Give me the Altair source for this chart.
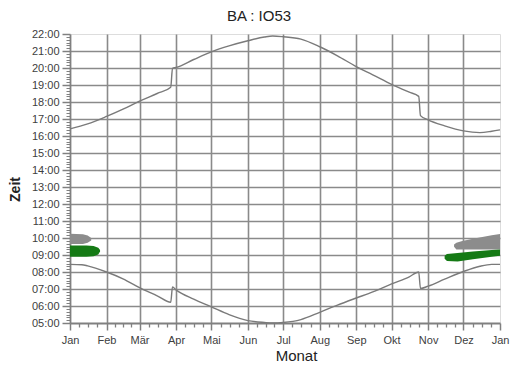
import altair as alt
import pandas as pd

# ---- axis categories ----
month_days = [0, 31, 59, 90, 120, 151, 181, 212, 243, 273, 304, 334, 365]
month_labels = ["Jan", "Feb", "Mär", "Apr", "Mai", "Jun", "Jul", "Aug", "Sep", "Okt", "Nov", "Dez", "Jan"]
hour_ticks = list(range(5, 23))

# ---- sunset (upper curve), day of year -> hour ----
sunset_day = [0, 15, 31, 45, 59, 74, 85.5, 87, 90, 105, 120, 135, 151, 165, 172, 181, 196, 212,
              227, 243, 257, 273, 288, 296, 297.5, 304, 318, 334, 348, 358, 365]
sunset_time = [16.42, 16.71, 17.15, 17.58, 18.05, 18.5, 18.87, 19.98, 20.03, 20.5, 20.95, 21.3,
               21.6, 21.82, 21.88, 21.84, 21.7, 21.25, 20.72, 20.08, 19.6, 19.03, 18.58, 18.33,
               17.2, 16.95, 16.6, 16.3, 16.2, 16.28, 16.36]

# ---- sunrise (lower curve) ----
sunrise_day = [0, 10, 15, 31, 45, 59, 74, 85.5, 87, 90, 105, 120, 135, 151, 165, 172, 181, 196,
               212, 227, 243, 257, 273, 288, 296, 297.5, 304, 318, 334, 348, 358, 365]
sunrise_time = [8.45, 8.43, 8.36, 8.0, 7.6, 7.08, 6.6, 6.22, 7.12, 6.95, 6.4, 5.95, 5.49, 5.14,
                5.03, 5.0, 5.03, 5.2, 5.63, 6.05, 6.47, 6.83, 7.3, 7.72, 8.0, 7.03, 7.17, 7.58,
                8.03, 8.34, 8.45, 8.45]

# ---- observation bands (gray / green blobs) ----
gray_l_day = [0, 11, 15, 18]
gray_l_lo = [9.65, 9.65, 9.72, 9.86]
gray_l_hi = [10.25, 10.22, 10.14, 10.0]

green_l_day = [0, 14, 20, 24, 25.5]
green_l_lo = [8.9, 8.9, 8.93, 9.03, 9.2]
green_l_hi = [9.56, 9.56, 9.53, 9.43, 9.3]

gray_r_day = [326, 328, 333, 342, 358, 365]
gray_r_lo = [9.48, 9.33, 9.33, 9.33, 9.33, 9.32]
gray_r_hi = [9.62, 9.72, 9.82, 9.95, 10.16, 10.24]

green_r_day = [318, 320, 329, 342, 358, 365]
green_r_lo = [8.78, 8.64, 8.62, 8.75, 8.9, 8.95]
green_r_hi = [8.95, 9.06, 9.12, 9.2, 9.29, 9.32]

FONT = "Liberation Sans"

sunset_df = pd.DataFrame({"day": sunset_day, "h": sunset_time})
sunrise_df = pd.DataFrame({"day": sunrise_day, "h": sunrise_time})

bands = pd.concat([
    pd.DataFrame({"seg": "gl", "grp": "grau", "day": gray_l_day, "lo": gray_l_lo, "hi": gray_l_hi}),
    pd.DataFrame({"seg": "nl", "grp": "grün", "day": green_l_day, "lo": green_l_lo, "hi": green_l_hi}),
    pd.DataFrame({"seg": "gr", "grp": "grau", "day": gray_r_day, "lo": gray_r_lo, "hi": gray_r_hi}),
    pd.DataFrame({"seg": "nr", "grp": "grün", "day": green_r_day, "lo": green_r_lo, "hi": green_r_hi}),
])

# tick positions
minor_days = []
for a, b in zip(month_days[:-1], month_days[1:]):
    for k in (1, 2, 3):
        minor_days.append(a + (b - a) * k / 4)
minor_hours = [h + k / 6 for h in hour_ticks[:-1] for k in range(1, 6)]

xscale = alt.Scale(domain=[0, 365], nice=False, zero=False)
yscale = alt.Scale(domain=[5, 22], nice=False, zero=False)

GRID = "#8a8a8a"
AX = "#808080"
LINE = "#7a7a7a"

label_expr = "[" + ",".join("'%s'" % m for m in month_labels) + "][indexof([" + \
    ",".join(str(d) for d in month_days) + "], datum.value)]"

# layer 1: bands + grid axes
band_layer = alt.Chart(bands).mark_area(opacity=1).encode(
    x=alt.X("day:Q", scale=xscale,
            axis=alt.Axis(orient="bottom", values=month_days[1:-1], grid=True, gridColor=GRID,
                          gridWidth=1.6, ticks=False, labels=False, domain=False, title=None)),
    y=alt.Y("lo:Q", scale=yscale,
            axis=alt.Axis(orient="left", values=hour_ticks[1:-1], grid=True, gridColor=GRID,
                          gridWidth=1.6, ticks=False, labels=False, domain=False, title=None)),
    y2="hi:Q",
    color=alt.Color("grp:N", scale=alt.Scale(domain=["grau", "grün"], range=["#8c8c8c", "#157a15"]),
                    legend=None),
    detail="seg:N",
)

# layer 2: sunset line + labelled axes
sunset_layer = alt.Chart(sunset_df).mark_line(color=LINE, strokeWidth=1.4, interpolate="monotone").encode(
    x=alt.X("day:Q", scale=xscale,
            axis=alt.Axis(orient="bottom", values=month_days, labelExpr=label_expr, grid=False,
                          tickSize=7, tickColor=AX, tickWidth=1.5, domainColor=AX, domainWidth=1.8,
                          labelFont=FONT, labelFontSize=11, labelColor="#404040", labelPadding=4,
                          labelFlush=False,
                          title="Monat", titleFont=FONT, titleFontSize=15, titleFontWeight="normal",
                          titleColor="#222", titlePadding=3, titleX=226)),
    y=alt.Y("h:Q", scale=yscale,
            axis=alt.Axis(orient="left", values=hour_ticks,
                          labelExpr="(datum.value < 10 ? '0' : '') + datum.value + ':00'",
                          grid=False, tickSize=8, tickColor=AX, tickWidth=1.5, domainColor=AX,
                          domainWidth=1.8, labelFont=FONT, labelFontSize=11, labelColor="#404040",
                          labelPadding=3, labelFlush=False,
                          title="Zeit", titleFont=FONT, titleFontSize=14, titleFontWeight="bold",
                          titleColor="#222", titleX=-55, titleY=155, titleBaseline="middle")),
)

# layer 3: sunrise line + minor ticks
sunrise_layer = alt.Chart(sunrise_df).mark_line(color=LINE, strokeWidth=1.4, interpolate="monotone").encode(
    x=alt.X("day:Q", scale=xscale,
            axis=alt.Axis(orient="bottom", values=minor_days, grid=False, labels=False, domain=False,
                          tickSize=4, tickColor=AX, tickWidth=1.3, title=None)),
    y=alt.Y("h:Q", scale=yscale,
            axis=alt.Axis(orient="left", values=minor_hours, grid=False, labels=False, domain=False,
                          tickSize=4, tickColor=AX, tickWidth=1.0, title=None)),
)

chart = alt.layer(band_layer, sunset_layer, sunrise_layer).resolve_axis(
    x="independent", y="independent"
).properties(
    width=430,
    height=289,
    autosize=alt.AutoSizeParams(type="none"),
    padding={"left": 62, "top": 26, "right": 10, "bottom": 40},
    title=alt.TitleParams("BA : IO53", font=FONT, fontSize=15, fontWeight="normal", color="#222",
                          anchor="middle", frame="group", dx=-26, offset=4),
).configure_view(stroke=None).configure(background="white")

chart.save("out.html", embed_options={"renderer": "svg", "actions": False})
